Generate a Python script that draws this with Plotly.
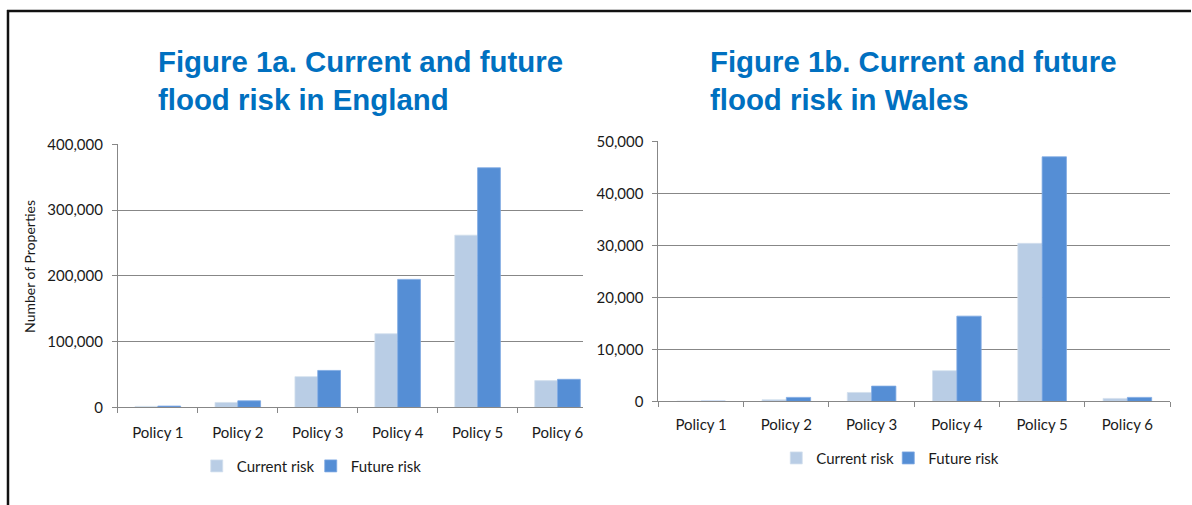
import plotly.graph_objects as go

# Number of properties at risk under each policy option
policies = ["Policy 1", "Policy 2", "Policy 3", "Policy 4", "Policy 5", "Policy 6"]
series_names = ["Current risk", "Future risk"]

england_current = [1500, 7500, 46700, 112000, 262000, 40700]
england_future = [2000, 10000, 56200, 194700, 364500, 42700]

wales_current = [20, 320, 1720, 5900, 30400, 570]
wales_future = [40, 770, 2940, 16400, 47050, 770]

england_ticks = [0, 100000, 200000, 300000, 400000]
wales_ticks = [0, 10000, 20000, 30000, 40000, 50000]

LIGHT = "#B9CDE5"
DARK = "#558ED5"
GRID = "#878787"
TITLE_BLUE = "#0070C0"
TEXT = "#1a1a1a"

W, H = 1192, 505
# vertical band of the page that the figure occupies once rendered
TOP, SPAN = 8, 489


def fx(p):
    return p / W


def fy(p):
    return 1 - (p - TOP) / SPAN


fig = go.Figure()

for name, vals, col, edge in [
    (series_names[0], england_current, LIGHT, "#d3dfee"),
    (series_names[1], england_future, DARK, "#7ea8e2"),
]:
    fig.add_trace(go.Bar(
        x=policies, y=vals, name=name, xaxis="x", yaxis="y",
        marker=dict(color=col, line=dict(color=edge, width=0.8)),
        legend="legend", hoverinfo="x+y+name",
    ))

for name, vals, col, edge in [
    (series_names[0], wales_current, LIGHT, "#d3dfee"),
    (series_names[1], wales_future, DARK, "#7ea8e2"),
]:
    fig.add_trace(go.Bar(
        x=policies, y=vals, name=name, xaxis="x2", yaxis="y2",
        marker=dict(color=col, line=dict(color=edge, width=0.8)),
        legend="legend2", hoverinfo="x+y+name",
    ))

tick_font = dict(family="Lato", size=15, color=TEXT)

xaxis_common = dict(
    type="category", showline=True, linecolor=GRID, linewidth=1,
    ticks="outside", tickson="boundaries", ticklen=5, tickcolor=GRID,
    showgrid=False, tickfont=tick_font, fixedrange=True,
)
yaxis_common = dict(
    showgrid=True, gridcolor=GRID, gridwidth=1, showline=True, linecolor=GRID,
    linewidth=1, ticks="outside", ticklen=5, tickcolor=GRID, zeroline=False,
    tickformat=",", tickfont=tick_font, ticklabelstandoff=6, fixedrange=True,
)

legend_font = dict(family="Lato", size=15, color=TEXT)

fig.update_layout(
    width=W, height=H,
    margin=dict(l=0, r=0, t=0, b=0),
    paper_bgcolor="white", plot_bgcolor="white",
    barmode="group", bargap=0.43, bargroupgap=0,
    xaxis=dict(domain=[fx(118), fx(583)], anchor="y",
               range=[-0.5, 5.5 - 15 / 80], ticklabelstandoff=12,
               **xaxis_common),
    yaxis=dict(domain=[fy(407), fy(143)], anchor="x", range=[0, 400000],
               tickvals=england_ticks, **yaxis_common),
    xaxis2=dict(domain=[fx(659), fx(1171)], anchor="y2",
                range=[-0.5, 5.5], ticklabelstandoff=10, **xaxis_common),
    yaxis2=dict(domain=[fy(401), fy(140)], anchor="x2", range=[0, 50000],
                tickvals=wales_ticks, **yaxis_common),
    legend=dict(orientation="h", x=fx(311), xanchor="center", y=fy(466),
                yanchor="middle", font=legend_font, entrywidth=69,
                bgcolor="rgba(0,0,0,0)", itemwidth=30),
    legend2=dict(orientation="h", x=fx(889), xanchor="center", y=fy(458),
                 yanchor="middle", font=legend_font, entrywidth=67,
                 bgcolor="rgba(0,0,0,0)", itemwidth=30),
    annotations=[
        dict(text="<b>Figure 1a. Current and future<br>flood risk in England</b>",
             xref="paper", yref="paper", x=fx(156), y=fy(79),
             xanchor="left", yanchor="middle", align="left", showarrow=False,
             font=dict(family="Liberation Sans", size=29.4, color=TITLE_BLUE)),
        dict(text="<b>Figure 1b. Current and future<br>flood risk in Wales</b>",
             xref="paper", yref="paper", x=fx(709), y=fy(78.5),
             xanchor="left", yanchor="middle", align="left", showarrow=False,
             font=dict(family="Liberation Sans", size=29.4, color=TITLE_BLUE)),
        dict(text="Number of Properties", textangle=-90,
             xref="paper", yref="paper", x=fx(30), y=fy(265),
             xanchor="center", yanchor="middle", showarrow=False,
             font=dict(family="Lato", size=14, color=TEXT)),
    ],
    shapes=[
        dict(type="line", xref="paper", yref="paper", x0=fx(7), x1=1.0,
             y0=fy(9), y1=fy(9), line=dict(color="#111111", width=2.5)),
        dict(type="line", xref="paper", yref="paper", x0=fx(8), x1=fx(8),
             y0=fy(8), y1=-0.05, line=dict(color="#111111", width=2.5)),
    ],
)

fig.write_html("out.html")
